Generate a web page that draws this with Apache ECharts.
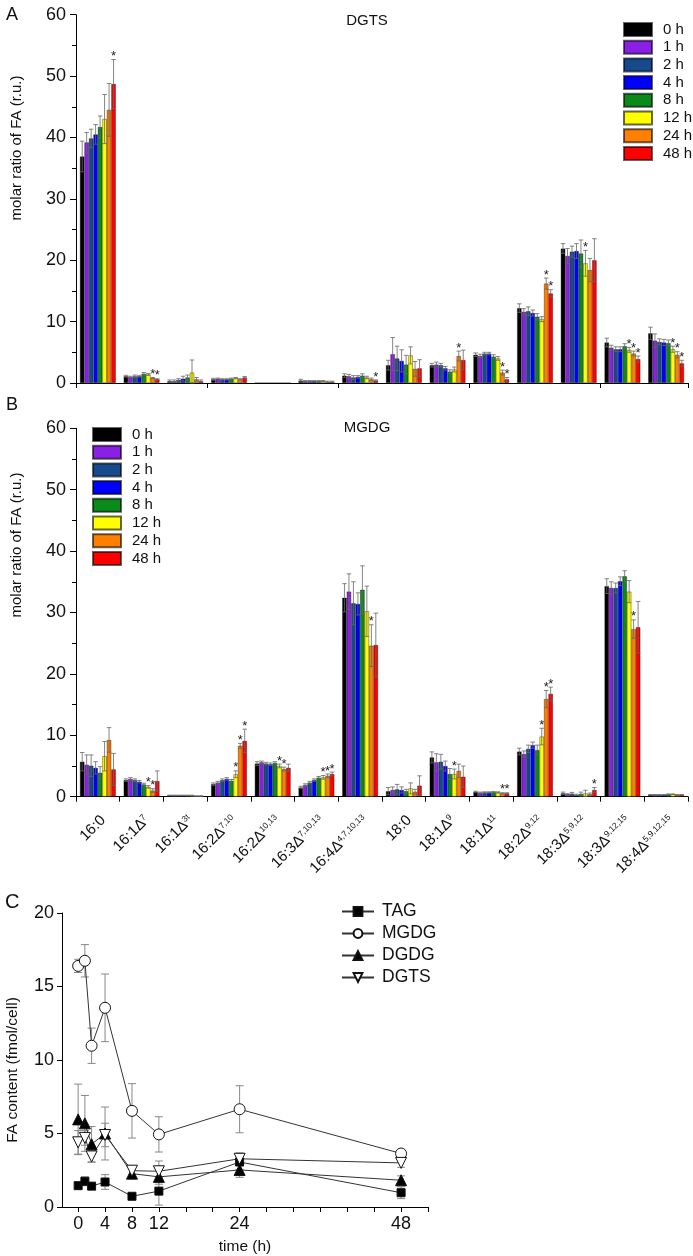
<!DOCTYPE html>
<html><head><meta charset="utf-8">
<script src="https://cdn.jsdelivr.net/npm/echarts@6/dist/echarts.min.js"></script>
<style>html,body{margin:0;padding:0;background:#fff}#c{width:693px;height:1256px}</style>
</head><body><div id="c"></div>
<script>
// ---------- DATA ----------
const categories = ['16:0','16:1Δ^7','16:1Δ^3t','16:2Δ^7,10','16:2Δ^10,13','16:3Δ^7,10,13','16:4Δ^4,7,10,13','18:0','18:1Δ^9','18:1Δ^11','18:2Δ^9,12','18:3Δ^5,9,12','18:3Δ^9,12,15','18:4Δ^5,9,12,15'];
const hours = ['0 h','1 h','2 h','4 h','8 h','12 h','24 h','48 h'];

// Panel A (DGTS) values per time point, across categories
const A_0h  = [36.9,1.1,0.3,0.6,0,0.4,1.2,2.9,2.9,4.6,12.2,21.9,6.6,8.1];
const A_1h  = [39.2,1.0,0.3,0.7,0,0.3,1.1,4.7,3.0,4.4,11.6,20.7,5.75,6.9];
const A_2h  = [39.85,1.1,0.5,0.6,0,0.3,0.9,4.0,2.9,4.8,11.7,21.4,5.5,6.7];
const A_4h  = [40.5,1.1,0.7,0.6,0,0.3,1.0,3.6,2.4,4.8,11.4,21.5,5.5,6.6];
const A_8h  = [41.7,1.5,0.9,0.7,0,0.3,1.2,3.0,1.85,4.3,10.8,21.1,6.0,6.5];
const A_12h = [43.0,1.4,1.7,0.8,0,0.3,0.9,4.5,2.2,4.0,10.4,19.5,5.4,5.5];
const A_24h = [44.5,0.8,0.6,0.6,0,0.2,0.6,2.3,4.4,1.7,16.2,18.4,4.8,4.6];
const A_48h = [48.7,0.6,0.3,0.9,0,0.2,0.4,2.4,3.75,0.6,14.6,20.0,3.9,3.2];
// Panel A errors
const A_0h_e  = [2.5,0.15,0.2,0.15,0,0.2,0.3,0.8,0.3,0.3,0.7,0.8,0.7,1.0];
const A_1h_e  = [1.6,0.1,0.2,0.1,0,0.1,0.3,2.7,0.4,0.3,0.5,1.2,0.4,1.1];
const A_2h_e  = [1.5,0.2,0.2,0.1,0,0.1,0.3,2.0,0.3,0.2,0.7,0.9,0.4,0.5];
const A_4h_e  = [1.6,0.15,0.4,0.1,0,0.1,0.2,1.8,0.3,0.2,0.5,1.2,0.4,0.5];
const A_8h_e  = [1.8,0.2,0.4,0.1,0,0.1,0.3,1.5,0.3,0.3,0.5,2.2,0.4,0.5];
const A_12h_e = [4.0,0.15,2.05,0.1,0,0.1,0.2,1.4,0.4,0.3,0.4,2.1,0.4,0.5];
const A_24h_e = [4.3,0.1,0.3,0.1,0,0.1,0.2,1.2,0.8,0.4,0.9,1.9,0.4,0.5];
const A_48h_e = [4.0,0.1,0.2,0.15,0,0.1,0.1,1.4,1.6,0.3,0.6,3.5,0.5,0.5];
// significance marks [category index, time index]
const A_stars = [[0,7],[1,6],[1,7],[6,7],[8,6],[9,6],[9,7],[10,6],[10,7],[11,5],[12,5],[12,6],[12,7],[13,5],[13,6],[13,7]];

// Panel B (MGDG)
const B_0h  = [5.7,2.7,0.2,2.05,5.4,1.5,32.4,0.9,6.4,0.8,7.35,0.55,34.3,0.3];
const B_1h  = [5.2,2.9,0.2,2.3,5.6,1.9,33.4,1.1,5.6,0.65,6.95,0.4,34.0,0.3];
const B_2h  = [5.05,2.7,0.2,2.7,5.4,2.3,31.5,1.2,5.7,0.7,7.8,0.5,34.0,0.3];
const B_4h  = [4.7,2.45,0.2,2.9,5.3,2.7,31.4,1.1,5.0,0.7,8.4,0.3,35.1,0.3];
const B_8h  = [3.9,2.0,0.2,2.6,5.5,3.1,33.7,0.9,3.7,0.75,7.6,0.45,35.9,0.4];
const B_12h = [6.6,1.6,0.2,3.65,5.0,3.15,30.2,1.35,3.7,0.7,9.8,0.55,33.4,0.4];
const B_24h = [9.25,1.0,0.1,8.3,4.5,3.4,24.6,0.8,4.2,0.55,15.9,0.4,27.3,0.3];
const B_48h = [4.45,2.55,0.1,9.1,4.7,3.7,24.7,1.8,3.25,0.55,16.75,1.1,27.6,0.3];
const B_0h_e  = [1.5,0.2,0.05,0.2,0.3,0.2,2.3,0.6,0.9,0.1,0.55,0.2,1.2,0.05];
const B_1h_e  = [1.6,0.2,0.05,0.2,0.2,0.2,2.9,0.5,1.4,0.1,0.5,0.1,1.0,0.05];
const B_2h_e  = [1.75,0.2,0.05,0.2,0.2,0.2,3.5,0.8,1.2,0.1,0.6,0.2,0.8,0.05];
const B_4h_e  = [1.0,0.2,0.05,0.2,0.2,0.2,1.8,0.5,0.8,0.1,0.5,0.1,0.7,0.05];
const B_8h_e  = [1.0,0.2,0.05,0.2,0.2,0.2,3.9,0.3,0.9,0.1,0.8,0.3,0.9,0.05];
const B_12h_e = [2.4,0.2,0.05,0.55,0.3,0.3,4.1,0.9,0.8,0.1,1.35,0.5,1.8,0.05];
const B_24h_e = [2.0,0.3,0.05,0.4,0.3,0.3,3.4,0.4,1.1,0.1,1.4,0.2,1.5,0.05];
const B_48h_e = [2.6,1.65,0.05,1.9,0.6,0.3,5.2,1.6,1.75,0.1,1.1,0.4,4.2,0.05];
const B_stars = [[1,5],[1,6],[3,5],[3,6],[3,7],[4,5],[4,6],[5,5],[5,6],[5,7],[6,6],[8,5],[9,6],[9,7],[10,5],[10,6],[10,7],[11,7],[12,6]];

// Panel C
const times = [0,1,2,4,8,12,24,48];
const TAG  = [1.45,1.75,1.42,1.7,0.73,1.08,3.06,0.97];
const TAG_e  = [0.2,0.3,0.15,0.5,0.1,0.95,0.5,0.4];
const MGDG = [16.4,16.75,10.97,13.55,6.54,4.94,6.65,3.64];
const MGDG_e = [0.45,1.1,1.2,2.3,1.85,1.2,1.6,0.15];
const DGDG = [5.96,5.69,4.27,5.0,2.27,2.05,2.52,1.82];
const DGDG_e = [2.4,1.9,1.2,1.8,0.3,0.5,0.5,0.3];
const DGTS = [4.4,4.7,3.44,4.9,2.47,2.43,3.28,3.0];
const DGTS_e = [0.8,0.5,0.4,0.8,0.3,0.7,0.4,0.3];
const xTicksC = [0,4,8,12,16,20,24,28,32,36,40,44,48,52];
const xLabelsC = [0,4,8,12,24,48];

// ---------- STYLE ----------
const FF = '"Liberation Sans", Arial, sans-serif';
const colors = ['#000000','#8a1fe6','#174a8c','#0000ff','#0a8a1a','#ffff00','#ff8000','#ff0000'];
const GAP = 0.18;

const valsA = [A_0h,A_1h,A_2h,A_4h,A_8h,A_12h,A_24h,A_48h];
const errsA = [A_0h_e,A_1h_e,A_2h_e,A_4h_e,A_8h_e,A_12h_e,A_24h_e,A_48h_e];
const valsB = [B_0h,B_1h,B_2h,B_4h,B_8h,B_12h,B_24h,B_48h];
const errsB = [B_0h_e,B_1h_e,B_2h_e,B_4h_e,B_8h_e,B_12h_e,B_24h_e,B_48h_e];

function barSeries(vals, xi, yi){
  return vals.map((v,i)=>({
    name: hours[i], type:'bar', xAxisIndex:xi, yAxisIndex:yi, data:v,
    barGap:'0%', barCategoryGap:(GAP*100)+'%',
    itemStyle:{color:colors[i], borderColor:'rgba(0,0,0,0.6)', borderWidth:0.6},
    emphasis:{disabled:true}, z:2
  }));
}
function errData(vals, errs, stars){
  const out=[];
  vals.forEach((arr,si)=>arr.forEach((v,ci)=>{
    const st = stars.some(s=>s[0]===ci && s[1]===si) ? 1 : 0;
    out.push([ci, v, si, errs[si][ci], st]);
  }));
  return out;
}
function errSeries(data, xi, yi){
  return {
    type:'custom', xAxisIndex:xi, yAxisIndex:yi, data, encode:{x:0,y:1}, z:5, silent:true,
    renderItem:(p, api)=>{
      const ci=api.value(0), v=api.value(1), si=api.value(2), e=api.value(3), st=api.value(4);
      const band = api.size([1,0])[0];
      const used = band*(1-GAP), bw = used/8;
      const cx = api.coord([ci,0])[0] - used/2 + (si+0.5)*bw;
      const yt = api.coord([ci, v+e])[1], yb = api.coord([ci, Math.max(0, v-e)])[1];
      const hw = bw/2, ls = {stroke:'#666', lineWidth:0.8};
      const ch = [];
      if (e > 0) {
        ch.push({type:'line', shape:{x1:cx,y1:yt,x2:cx,y2:yb}, style:ls});
        ch.push({type:'line', shape:{x1:cx-hw,y1:yt,x2:cx+hw,y2:yt}, style:ls});
        ch.push({type:'line', shape:{x1:cx-hw,y1:yb,x2:cx+hw,y2:yb}, style:ls});
      }
      if (st) ch.push({type:'text', style:{text:'*', x:cx, y:yt-3, align:'center', verticalAlign:'middle', font:'13px '+FF, fill:'#222'}});
      return {type:'group', children:ch};
    }
  };
}
function errSeriesC(vals, errs){
  return {
    type:'custom', xAxisIndex:2, yAxisIndex:2, data: times.map((t,i)=>[t, vals[i], errs[i]]),
    encode:{x:0,y:1}, z:1, silent:true,
    renderItem:(p, api)=>{
      const t=api.value(0), v=api.value(1), e=api.value(2);
      const x = api.coord([t,v])[0];
      const yt = api.coord([t,v+e])[1], yb = api.coord([t,Math.max(0,v-e)])[1];
      const ls = {stroke:'#888', lineWidth:1};
      return {type:'group', children:[
        {type:'line', shape:{x1:x,y1:yt,x2:x,y2:yb}, style:ls},
        {type:'line', shape:{x1:x-4,y1:yt,x2:x+4,y2:yt}, style:ls},
        {type:'line', shape:{x1:x-4,y1:yb,x2:x+4,y2:yb}, style:ls}
      ]};
    }
  };
}
function lineSeries(name, vals, symbol, fill, size, rot){
  return {
    name, type:'line', xAxisIndex:2, yAxisIndex:2, data: times.map((t,i)=>[t, vals[i]]),
    symbol, symbolSize:size, symbolRotate:rot||0, showAllSymbol:true,
    lineStyle:{color:'#333', width:1}, itemStyle:{color:fill, borderColor:'#111', borderWidth:1},
    emphasis:{disabled:true}, z:3
  };
}

const axisLineStyle = {show:true, onZero:false, lineStyle:{color:'#000', width:1}};
const catAxis = (gi, showLabel)=>({
  type:'category', gridIndex:gi, data:categories,
  axisLine:axisLineStyle, axisTick:{show:true, length:5, lineStyle:{color:'#000'}},
  axisLabel: showLabel ? {
    show:true, interval:0, rotate:45, margin:16, color:'#111', verticalAlign:'top',
    formatter:(v)=>{ const [b,s]=v.split('^'); return s ? '{b|'+b+'}{s|'+s+'}' : '{b|'+b+'}'; },
    rich:{ b:{fontSize:15, fontFamily:FF, color:'#111'}, s:{fontSize:8.5, fontFamily:FF, color:'#111', verticalAlign:'top'} }
  } : {show:false},
  splitLine:{show:false}
});
const valAxis = (gi)=>({
  type:'value', gridIndex:gi, min:0, max:60, interval:10,
  axisLine:axisLineStyle, axisTick:{show:true, length:6, lineStyle:{color:'#000'}},
  minorTick:{show:true, splitNumber:2, length:4, lineStyle:{color:'#000'}},
  axisLabel:{fontSize:18, color:'#111', margin:10, fontFamily:FF},
  splitLine:{show:false}
});

const legendBase = {
  orient:'vertical', data:hours, itemWidth:28, itemHeight:13, itemGap:2.7, selectedMode:false, padding:0,
  icon:'rect', textStyle:{fontSize:15, color:'#111', fontFamily:FF, lineHeight:13, padding:[0,0,0,6]}
};

const option = {
  animation:false,
  textStyle:{fontFamily:FF},
  grid:[
    {left:76, top:14.7, width:612, height:368.3},
    {left:76, top:428.3, width:612, height:368.4},
    {left:62, top:913, width:366, height:296}
  ],
  xAxis:[
    catAxis(0,false), catAxis(1,true),
    {type:'value', gridIndex:2, min:-2.4, max:52,
     axisLine:axisLineStyle, axisTick:{show:true, length:5, customValues:xTicksC, lineStyle:{color:'#000'}},
     axisLabel:{customValues:xLabelsC, fontSize:18, color:'#111', margin:8, fontFamily:FF},
     splitLine:{show:false},
     name:'time (h)', nameLocation:'middle', nameGap:32, nameTextStyle:{fontSize:15.5, color:'#111', fontFamily:FF}}
  ],
  yAxis:[
    valAxis(0), valAxis(1),
    {type:'value', gridIndex:2, min:0, max:20, interval:5,
     axisLine:axisLineStyle, axisTick:{show:true, length:5, lineStyle:{color:'#000'}},
     axisLabel:{fontSize:18, color:'#111', margin:8, fontFamily:FF}, splitLine:{show:false}}
  ],
  legend:[
    Object.assign({}, legendBase, {left:623, top:22}),
    Object.assign({}, legendBase, {left:92, top:427}),
    {orient:'vertical', left:341, top:902.5, padding:0, data:['TAG','MGDG','DGDG','DGTS'], itemWidth:32, itemHeight:11,
     itemGap:4, selectedMode:false, textStyle:{fontSize:17.5, color:'#111', fontFamily:FF, lineHeight:17, padding:[0,0,0,3]}}
  ],
  graphic:[
    {type:'text', left:6, top:6, style:{text:'A', font:'18px '+FF, fill:'#111'}},
    {type:'text', left:6, top:396, style:{text:'B', font:'18px '+FF, fill:'#111'}},
    {type:'text', left:5, top:892, style:{text:'C', font:'20px '+FF, fill:'#111'}},
    {type:'text', x:367, y:21, style:{text:'DGTS', align:'center', verticalAlign:'middle', font:'15px '+FF, fill:'#111'}},
    {type:'text', x:367, y:428, style:{text:'MGDG', align:'center', verticalAlign:'middle', font:'15px '+FF, fill:'#111'}},
    {type:'text', x:17, y:148, rotation:Math.PI/2, style:{text:'molar ratio of FA (r.u.)', align:'center', verticalAlign:'middle', font:'15px '+FF, fill:'#111'}},
    {type:'text', x:17, y:545, rotation:Math.PI/2, style:{text:'molar ratio of FA (r.u.)', align:'center', verticalAlign:'middle', font:'15px '+FF, fill:'#111'}},
    {type:'text', x:13, y:1070, rotation:Math.PI/2, style:{text:'FA content (fmol/cell)', align:'center', verticalAlign:'middle', font:'15.5px '+FF, fill:'#111'}}
  ],
  series:[].concat(
    barSeries(valsA,0,0),
    barSeries(valsB,1,1),
    [errSeries(errData(valsA,errsA,A_stars),0,0), errSeries(errData(valsB,errsB,B_stars),1,1)],
    [errSeriesC(TAG,TAG_e), errSeriesC(MGDG,MGDG_e), errSeriesC(DGDG,DGDG_e), errSeriesC(DGTS,DGTS_e)],
    [lineSeries('TAG',TAG,'rect','#000',8), lineSeries('MGDG',MGDG,'circle','#fff',11),
     lineSeries('DGDG',DGDG,'triangle','#000',11), lineSeries('DGTS',DGTS,'triangle','#fff',11,180)]
  )
};
const chart = echarts.init(document.getElementById('c'), null, {renderer:'canvas'});
chart.setOption(option);
</script></body></html>
